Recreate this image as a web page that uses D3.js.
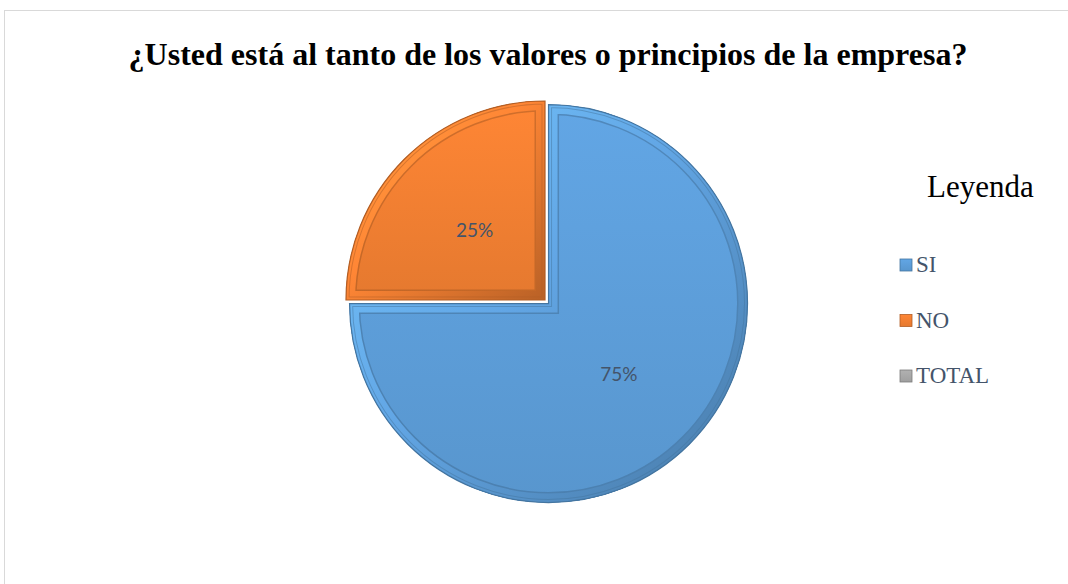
<!DOCTYPE html>
<html>
<head>
<meta charset="utf-8">
<script src="https://cdn.jsdelivr.net/npm/d3@7"></script>
<style>
  body { margin: 0; background: #fff; }
  svg { display: block; }
</style>
</head>
<body>
<script>
const categories = ["SI", "NO", "TOTAL"];
const values = [75, 25, 0];
const colors = ["#5b9bd5", "#ed7d31", "#a5a5a5"];
const titleText = "¿Usted está al tanto de los valores o principios de la empresa?";

const w = 1068, h = 584;
const cx = 545, cy = 300, r = 199;

const svg = d3.select("body").append("svg").attr("width", w).attr("height", h);
const defs = svg.append("defs");

// chart frame
svg.append("rect").attr("x", 4.5).attr("y", 10.5).attr("width", w).attr("height", h)
   .attr("fill", "#fff").attr("stroke", "#d9d9d9");

svg.append("text")
   .attr("x", 548).attr("y", 65)
   .attr("text-anchor", "middle")
   .style("font-family", "'Liberation Serif', 'Times New Roman', serif")
   .style("font-weight", "bold").style("font-size", "32px")
   .attr("fill", "#000")
   .text(titleText);

// gradients: face + bevel band
const shade = (c, k) => d3.color(c).brighter(k).formatHex();
colors.forEach((c, i) => {
  const g = defs.append("linearGradient").attr("id", "face" + i)
    .attr("x1", 0).attr("y1", 0).attr("x2", 0).attr("y2", 1);
  g.append("stop").attr("offset", 0).attr("stop-color", shade(c, 0.2));
  g.append("stop").attr("offset", 1).attr("stop-color", shade(c, -0.1));
  const b = defs.append("linearGradient").attr("id", "bevel" + i)
    .attr("x1", 0).attr("y1", 0).attr("x2", 1).attr("y2", 1);
  b.append("stop").attr("offset", 0).attr("stop-color", shade(c, 0.7));
  b.append("stop").attr("offset", 0.45).attr("stop-color", shade(c, 0.2));
  b.append("stop").attr("offset", 1).attr("stop-color", shade(c, -0.7));
});

const pie = d3.pie().sort(null).value(d => d.v);
const arcs = pie(categories.map((k, i) => ({ k, v: values[i], i })));
const arc = d3.arc().innerRadius(0).outerRadius(r);
const explode = [5, 0, 0];

const g = svg.append("g").attr("transform", `translate(${cx},${cy})`);

arcs.filter(a => a.data.v > 0).forEach(a => {
  const i = a.data.i;
  const mid = (a.startAngle + a.endAngle) / 2;
  const dx = Math.sin(mid) * explode[i], dy = -Math.cos(mid) * explode[i];
  const sg = g.append("g").attr("transform", `translate(${dx},${dy})`);
  const d = arc(a);
  defs.append("clipPath").attr("id", "clip" + i).append("path").attr("d", d);
  sg.append("path").attr("d", d).attr("fill", `url(#face${i})`);
  // dark line at inner edge of bevel
  sg.append("path").attr("d", d).attr("fill", "none")
    .attr("stroke", shade(colors[i], -1.2)).attr("stroke-opacity", 0.45)
    .attr("stroke-width", 21).attr("stroke-linejoin", "miter")
    .attr("clip-path", `url(#clip${i})`);
  // bevel band
  sg.append("path").attr("d", d).attr("fill", "none")
    .attr("stroke", `url(#bevel${i})`).attr("stroke-width", 18)
    .attr("stroke-linejoin", "miter")
    .attr("clip-path", `url(#clip${i})`);
  // thin light ridge inside band
  sg.append("path").attr("d", d).attr("fill", "none")
    .attr("stroke", shade(colors[i], -0.8)).attr("stroke-opacity", 0.5)
    .attr("stroke-width", 7).attr("stroke-linejoin", "miter")
    .attr("clip-path", `url(#clip${i})`);
  sg.append("path").attr("d", d).attr("fill", "none")
    .attr("stroke", `url(#bevel${i})`).attr("stroke-width", 5)
    .attr("stroke-linejoin", "miter")
    .attr("clip-path", `url(#clip${i})`);
  sg.append("path").attr("d", d).attr("fill", "none")
    .attr("stroke", shade(colors[i], -0.8)).attr("stroke-width", 1.2);
  const [lx, ly] = arc.centroid(a);
  sg.append("text").attr("x", lx).attr("y", ly + 7)
    .attr("text-anchor", "middle")
    .style("font-family", "Lato, 'Open Sans', sans-serif").style("font-size", "19px")
    .attr("fill", "#44546a")
    .text(Math.round(a.data.v / d3.sum(values) * 100) + "%");
});

// legend
svg.append("text").attr("x", 927).attr("y", 197)
   .style("font-family", "'Liberation Serif', 'Times New Roman', serif")
   .style("font-size", "31px").attr("fill", "#000").text("Leyenda");

const ly = d3.scalePoint().domain(categories).range([272, 383]);
const lg = svg.append("g");
categories.forEach((k, i) => {
  const y = ly(k);
  lg.append("rect").attr("x", 900).attr("y", y - 13).attr("width", 12).attr("height", 12)
    .attr("fill", `url(#face${i})`).attr("stroke", shade(colors[i], -0.8)).attr("stroke-width", 0.8);
  lg.append("text").attr("x", 916).attr("y", y)
    .style("font-family", "'Liberation Serif', 'Times New Roman', serif")
    .style("font-size", "23px").attr("fill", "#44546a").text(k);
});
</script>
</body>
</html>
